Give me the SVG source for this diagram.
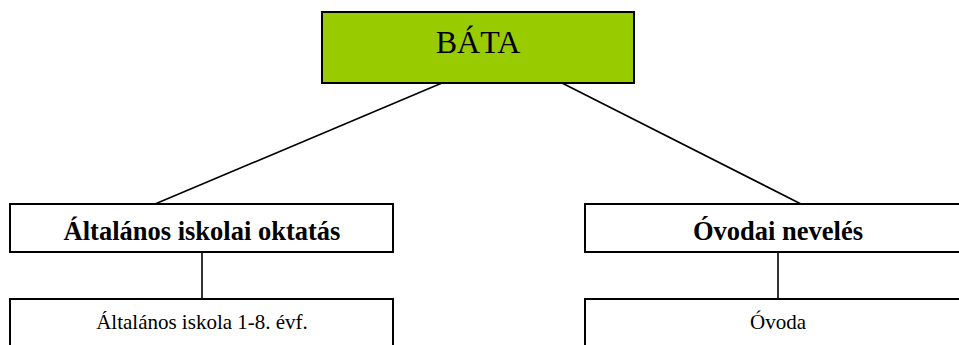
<svg xmlns="http://www.w3.org/2000/svg" width="959" height="345" viewBox="0 0 959 345">
<style>
.box{fill:#fff;stroke:#000;stroke-width:2}
.top{fill:#99CC00;stroke:#000;stroke-width:2}
.t{font-family:"Liberation Serif","Times New Roman",serif;text-anchor:middle;fill:#000}
.b{font-weight:bold;font-size:26.5px}
.s{font-size:21px}
.conn line{stroke:#000;stroke-width:1.6}
</style>
<rect width="959" height="345" fill="#fff"/>
<g class="conn">
<line x1="442" y1="83" x2="155" y2="204"/>
<line x1="562" y1="83" x2="801" y2="204"/>
<line x1="202" y1="252" x2="202" y2="299"/>
<line x1="778" y1="252" x2="778" y2="299"/>
</g>
<g id="bata">
<rect class="top" x="322" y="12" width="312" height="71"/>
<text class="t" x="478" y="53" font-size="32">BÁTA</text>
</g>
<g id="altalanos">
<rect class="box" x="10" y="204" width="383" height="48"/>
<text class="t b" x="202" y="240">Általános iskolai oktatás</text>
</g>
<g id="ovodai">
<rect class="box" x="585" y="204" width="386" height="48"/>
<text class="t b" x="778" y="240">Óvodai nevelés</text>
</g>
<g id="iskola">
<rect class="box" x="10" y="299" width="383" height="60"/>
<text class="t s" x="202" y="329">Általános iskola 1-8. évf.</text>
</g>
<g id="ovoda">
<rect class="box" x="585" y="299" width="386" height="60"/>
<text class="t s" x="778" y="329">Óvoda</text>
</g>
</svg>
